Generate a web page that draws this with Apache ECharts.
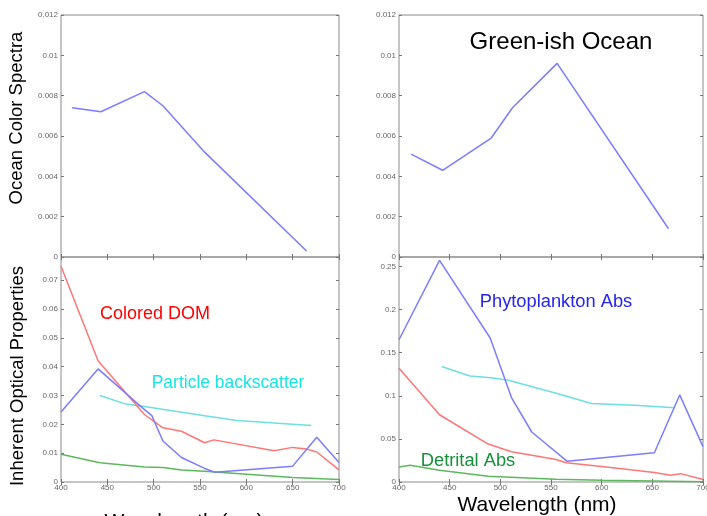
<!DOCTYPE html>
<html>
<head>
<meta charset="utf-8">
<script src="https://cdn.jsdelivr.net/npm/echarts@6/dist/echarts.min.js"></script>
<style>
  html, body { margin: 0; padding: 0; background: #fff; }
  #content { width: 707px; height: 516px; }
</style>
</head>
<body>
<div id="content"></div>
<script>
// wavelength ticks (nm)
var waveTicks = [400, 450, 500, 550, 600, 650, 700];

// ocean color spectra, top panels
var blueOceanWave = [412, 443, 490, 510, 555, 665];
var blueOceanVals = [0.0074, 0.0072, 0.0082, 0.0075, 0.0052, 0.0003];
var greenOceanWave = [412, 443, 491, 512, 556, 666];
var greenOceanVals = [0.0051, 0.0043, 0.0059, 0.0074, 0.0096, 0.0014];

// inherent optical properties, bottom left
var cdomWaveL = [400, 440, 490, 510, 530, 555, 565, 630, 650, 665, 676, 700];
var cdomValsL = [0.0748, 0.0420, 0.0234, 0.0188, 0.0176, 0.0136, 0.0146, 0.0108, 0.0120, 0.0114, 0.0104, 0.0042];
var phytoWaveL = [400, 440, 486, 498, 510, 530, 555, 566, 650, 676, 700];
var phytoValsL = [0.0243, 0.0392, 0.0262, 0.0230, 0.0142, 0.0085, 0.0047, 0.0034, 0.0055, 0.0155, 0.0068];
var bbpWaveL = [442, 470, 490, 555, 590, 670];
var bbpValsL = [0.0300, 0.0270, 0.0262, 0.0230, 0.0213, 0.0196];
var detWaveL = [400, 442, 490, 510, 530, 555, 650, 700];
var detValsL = [0.0096, 0.0067, 0.0052, 0.0050, 0.0042, 0.0037, 0.0016, 0.0009];

// inherent optical properties, bottom right
var phytoWaveR = [400, 440, 490, 511, 531, 566, 652, 677, 700];
var phytoValsR = [0.165, 0.257, 0.167, 0.098, 0.058, 0.024, 0.034, 0.101, 0.041];
var cdomWaveR = [400, 440, 488, 511, 531, 555, 565, 600, 652, 668, 678, 700];
var cdomValsR = [0.132, 0.078, 0.044, 0.035, 0.031, 0.026, 0.0224, 0.018, 0.011, 0.0078, 0.0097, 0.003];
var bbpWaveR = [442, 470, 491, 508, 555, 590, 633, 672];
var bbpValsR = [0.134, 0.123, 0.121, 0.118, 0.103, 0.091, 0.089, 0.086];
var detWaveR = [400, 411, 440, 488, 555, 600, 700];
var detValsR = [0.0175, 0.0193, 0.0135, 0.0066, 0.0031, 0.0020, 0.0003];

var FONT = '"Liberation Sans", Arial, sans-serif';
var lineBlue = '#7c7cff', lineRed = '#ff7676', lineCyan = '#6fdede', lineGreen = '#5cb85c';

function pairs(xs, ys) {
    var out = [];
    for (var i = 0; i < xs.length; i++) out.push([xs[i], ys[i]]);
    return out;
}

var myChart = echarts.init(document.getElementById('content'), null, {renderer: 'canvas'});

var grids = [
    {left: 61, top: 15, width: 278, height: 242},   // top left
    {left: 399, top: 15, width: 304, height: 242},  // top right
    {left: 61, top: 257, width: 278, height: 225},  // bottom left
    {left: 399, top: 257, width: 304, height: 225}  // bottom right
];
grids.forEach(function (g) {
    g.show = true;
    g.borderColor = '#8a8a8a';
    g.borderWidth = 1;
    g.backgroundColor = 'transparent';
    g.containLabel = false;
    g.outerBoundsMode = 'none';
});

var yRanges = [
    {max: 0.012, interval: 0.002},
    {max: 0.012, interval: 0.002},
    {max: 0.078, interval: 0.01},
    {max: 0.261, interval: 0.05}
];

var xAxes = [], yAxes = [];
for (var g = 0; g < 4; g++) {
    var bottomRow = g >= 2;
    [false, true].forEach(function (isTop) {
        xAxes.push({
            gridIndex: g,
            type: 'value',
            position: isTop ? 'top' : 'bottom',
            min: 400, max: 700, interval: 50,
            axisLine: {show: false},
            axisTick: {show: true, inside: true, length: 3, lineStyle: {color: '#777'}},
            axisLabel: {
                show: bottomRow && !isTop,
                fontSize: 8, color: '#666', margin: 2, fontFamily: FONT,
                customValues: waveTicks
            },
            splitLine: {show: false}
        });
    });
    [false, true].forEach(function (isRight) {
        yAxes.push({
            gridIndex: g,
            type: 'value',
            position: isRight ? 'right' : 'left',
            min: 0, max: yRanges[g].max, interval: yRanges[g].interval,
            axisLine: {show: false},
            axisTick: {show: true, inside: true, length: 3, lineStyle: {color: '#777'}},
            axisLabel: {
                show: !isRight,
                fontSize: 8, color: '#666', margin: 3, fontFamily: FONT,
                showMaxLabel: !bottomRow
            },
            splitLine: {show: false}
        });
    });
}

function lineSeries(grid, xs, ys, color) {
    return {
        type: 'line',
        xAxisIndex: grid * 2,
        yAxisIndex: grid * 2,
        data: pairs(xs, ys),
        showSymbol: false,
        silent: true,
        animation: false,
        lineStyle: {color: color, width: 1.5},
        itemStyle: {color: color}
    };
}

function label(text, x, y, size, color, rot) {
    return {
        type: 'text',
        x: x, y: y,
        rotation: rot || 0,
        silent: true,
        style: {
            text: text, fill: color, font: size + 'px ' + FONT,
            align: 'center', verticalAlign: 'middle'
        }
    };
}

var option = {
    backgroundColor: '#fff',
    animation: false,
    grid: grids,
    xAxis: xAxes,
    yAxis: yAxes,
    series: [
        lineSeries(0, blueOceanWave, blueOceanVals, lineBlue),
        lineSeries(1, greenOceanWave, greenOceanVals, lineBlue),
        lineSeries(2, detWaveL, detValsL, lineGreen),
        lineSeries(2, bbpWaveL, bbpValsL, lineCyan),
        lineSeries(2, cdomWaveL, cdomValsL, lineRed),
        lineSeries(2, phytoWaveL, phytoValsL, lineBlue),
        lineSeries(3, detWaveR, detValsR, lineGreen),
        lineSeries(3, bbpWaveR, bbpValsR, lineCyan),
        lineSeries(3, cdomWaveR, cdomValsR, lineRed),
        lineSeries(3, phytoWaveR, phytoValsR, lineBlue)
    ],
    graphic: [
        label('Ocean Color Spectra', 17, 118, 18.5, '#000', Math.PI / 2),
        label('Inherent Optical Properties', 18, 376, 18.5, '#000', Math.PI / 2),
        label('Green-ish Ocean', 561, 42, 24, '#000'),
        label('Colored DOM', 155, 314, 18, '#ff0000'),
        label('Particle backscatter', 228, 383, 17.5, '#18e4e4'),
        label('Phytoplankton Abs', 556, 302, 18.3, '#2424ee'),
        label('Detrital Abs', 468, 461, 18.3, '#17903c'),
        label('Wavelength (nm)', 537, 505, 21, '#000'),
        label('Wavelength (nm)', 184, 522, 21, '#000')
    ]
};

myChart.setOption(option);
</script>
</body>
</html>
